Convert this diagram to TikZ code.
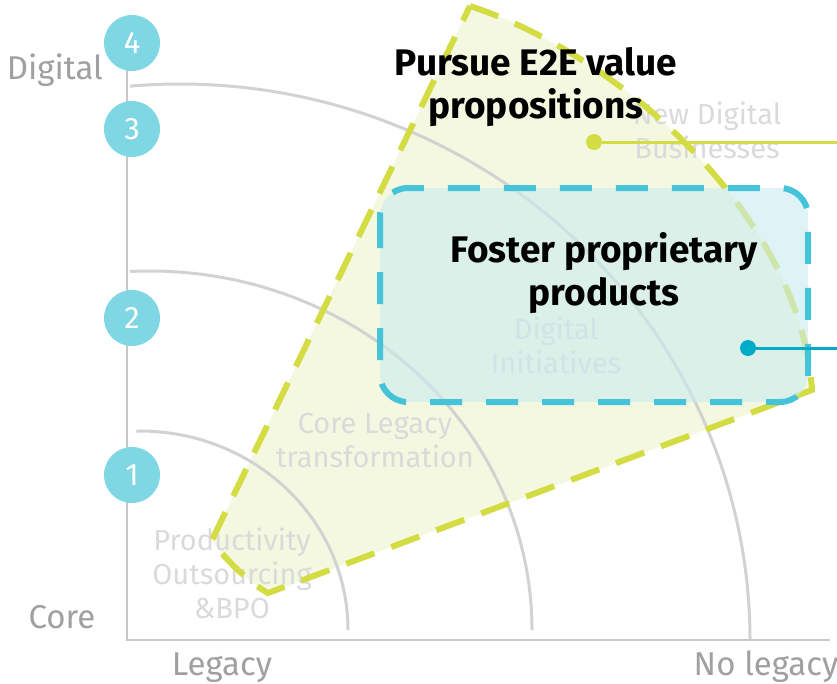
\documentclass[tikz,border=0pt]{standalone}
\usepackage{fontspec}
\setmainfont{Fira Sans}
\usetikzlibrary{positioning}

\definecolor{ringgray}{HTML}{D2D2D2}
\definecolor{axisgray}{HTML}{C8C8C8}
\definecolor{taggray}{HTML}{A0A0A0}
\definecolor{fadegray}{HTML}{DADADA}
\definecolor{e2eline}{HTML}{D4DC44}
\definecolor{e2efill}{HTML}{F5F8E0}
\definecolor{propline}{HTML}{45C4D9}
\definecolor{propfill}{RGB}{202,235,240}
\definecolor{propdot}{HTML}{00ACC8}
\definecolor{stagefill}{HTML}{7FD7E4}

\newcommand{\pursueshape}{(470,6) .. controls (620,55) and (800,215) .. (812,390) -- (268,593) .. controls (250,583) and (225,560) .. (212,540) -- cycle}

\begin{document}
\begin{tikzpicture}[x=1pt,y=-1pt,
  ring/.style={ringgray,line width=3pt},
  axis/.style={axisgray,line width=2pt},
  stage/.style={circle,fill=stagefill,text=white,minimum size=56pt,inner sep=0pt,font=\fontsize{31}{31}\selectfont},
  field/.style={fadegray,align=center,inner sep=0pt,font=\fontsize{29}{34}\selectfont},
  tag/.style={taggray,inner sep=0pt,font=\fontsize{33}{33}\selectfont},
  aim/.style={align=center,inner sep=0pt,font=\fontsize{37}{43}\selectfont\bfseries}]
  \useasboundingbox (0,0) rectangle (837,683);
  % area of the E2E value propositions
  \fill[e2efill] \pursueshape;
  % rings (y grows downwards, so the angles are negative)
  \draw[ring] (140,630) ++(-91:208 and 199) arc[start angle=-91,end angle=0,x radius=208,y radius=199];
  \draw[ring] (150,630) ++(-93:382 and 359) arc[start angle=-93,end angle=0,x radius=382,y radius=359];
  \draw[ring] (180,640) ++(-95:570 and 556) arc[start angle=-95,end angle=0,x radius=570,y radius=556];
  \node[field] (bpo) at (232,573) {Productivity\\Outsourcing\\\&BPO};
  \node[field] (legacy) at (375,440) {Core Legacy\\transformation};
  \node[field] (initiatives) at (556,345) {Digital\\Initiatives};
  \node[field] (newdigital) at (707,130) {New Digital\\Businesses};
  \draw[e2eline,line width=6pt,dash pattern=on 30pt off 18pt] \pursueshape;
  % proprietary products
  \draw[propline,line width=6pt,dash pattern=on 32pt off 24pt,fill=propfill,fill opacity=0.6,rounded corners=28pt] (380,188) rectangle (808,402);
  \node[aim] (pursue) at (536,87) {Pursue E2E value\\propositions};
  \node[aim] (foster) at (604,273) {Foster proprietary\\products};
  % pointers
  \coordinate (e2eend) at (837,142);
  \coordinate (propend) at (837,348);
  \node[circle,fill=e2eline,minimum size=16pt,inner sep=0pt] (e2edot) at (594,142) {};
  \node[circle,fill=propdot,minimum size=16pt,inner sep=0pt] (propdot) at (748,348) {};
  \draw[e2eline,line width=3pt] (e2edot) -- (e2eend);
  \draw[propdot,line width=3pt] (propdot) -- (propend);
  % axes
  \draw[axis] (127,70) -- (127,640) -- (830,640);
  \foreach \n/\y in {4/43,3/129,2/318,1/475}
    \node[stage] (stage\n) at (132,\y) {\n};
  \node[tag,anchor=base east] (digital) at (103,79) {Digital};
  \node[tag,anchor=base] (core) at (62,628) {Core};
  \node[tag,anchor=base] (legacyx) at (222,675) {Legacy};
  \node[tag,anchor=base] (nolegacy) at (766,675) {No legacy};
\end{tikzpicture}
\end{document}
